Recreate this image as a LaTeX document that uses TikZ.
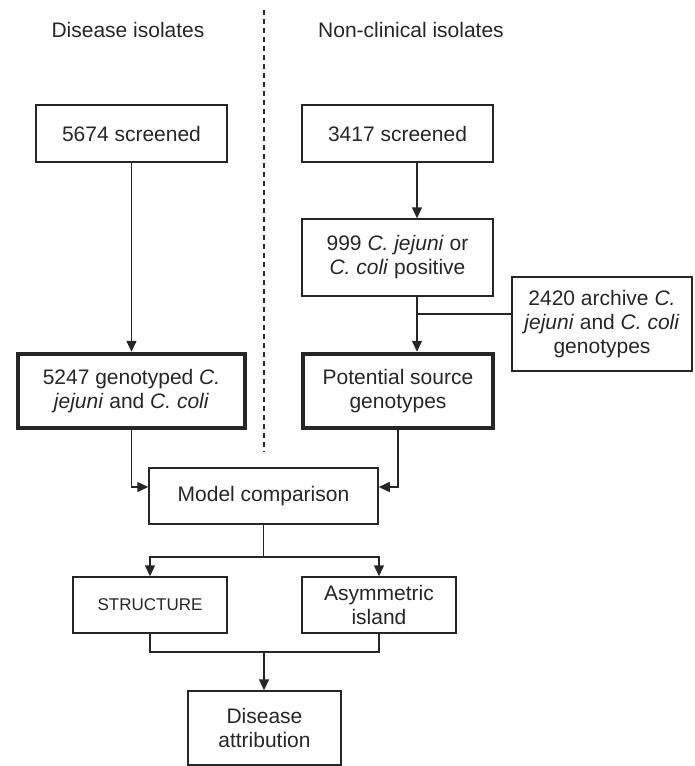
\documentclass[tikz,border=0pt]{standalone}
\usepackage{fontspec}
\setmainfont{Liberation Sans}
\usetikzlibrary{calc,arrows.meta,positioning}
\usepackage{xcolor}
\definecolor{ink}{RGB}{38,38,38}
\tikzset{
  box/.style     = {rectangle, draw=ink, line width=1.5pt, align=center, text=ink,
                    inner sep=2pt, font=\fontsize{21}{24}\selectfont},
  keybox/.style  = {box, line width=4.5pt},
  conn/.style    = {ink, line width=1.5pt, -{Triangle[length=11pt,width=10pt]}},
  link/.style    = {ink, line width=1.5pt},
  divider/.style = {ink, line width=1.5pt, dash pattern=on 5pt off 4pt},
  head/.style    = {text=ink, font=\fontsize{21}{24}\selectfont}
}

\begin{document}
\begin{tikzpicture}[x=1pt, y=-1pt]
    \useasboundingbox (0,0) rectangle (694,766);

    % ----- Headings and divider -----
    \node[head] (hdis) at (128,30) {Disease isolates};
    \node[head] (hnon) at (411,30) {Non-clinical isolates};
    \coordinate (divtop) at (264,10);
    \coordinate (divbot) at (264,452);
    \draw[divider] (divtop) -- (divbot);

    % ----- Disease column -----
    \node[box, minimum width=191pt, minimum height=57pt] (s1) at (131.5,133.5) {5674 screened};
    \node[keybox, minimum width=227pt, minimum height=74pt] (g1) at (131.5,391)
      {5247 genotyped \textit{C.}\\ \textit{jejuni} and \textit{C. coli}};
    \draw[conn] (s1) -- (g1);

    % ----- Non-clinical column -----
    \node[box, minimum width=191pt, minimum height=57pt] (s2) at (397.5,133.5) {3417 screened};
    \node[box, minimum width=191pt, minimum height=77pt] (p2) at (397.5,257.5)
      {999 \textit{C. jejuni} or\\ \textit{C. coli} positive};
    \node[box, minimum width=180pt, minimum height=94pt] (a2) at (602,324)
      {2420 archive \textit{C.}\\ \textit{jejuni} and \textit{C. coli}\\ genotypes};
    \node[keybox, minimum width=190pt, minimum height=74pt] (g2) at (398,391)
      {Potential source\\ genotypes};

    \coordinate (rx) at (417,0);
    \coordinate (jn) at (417,314);
    \draw[conn] (s2.south -| rx) -- (p2.north -| rx);
    \draw[conn] (p2.south -| rx) -- (g2.north -| rx);
    \draw[link] (a2.west |- jn) -- (jn);

    % ----- Model comparison -----
    \node[box, minimum width=229pt, minimum height=56pt] (mc) at (263.5,496) {Model comparison};
    \draw[conn] (g1.south) |- ($(mc.west)+(0,-9)$);
    \draw[conn] (g2.south) |- ($(mc.east)+(0,-9)$);

    % ----- Models -----
    \node[box, minimum width=154pt, minimum height=56pt, font=\fontsize{17}{20}\selectfont] (st) at (150,605) {STRUCTURE};
    \node[box, minimum width=154pt, minimum height=56pt] (ai) at (379,605) {Asymmetric\\ island};

    \coordinate (split) at (264,557);
    \draw[link] (mc.south) -- (mc.south |- split);
    \draw[conn] (mc.south |- split) -| (st.north);
    \draw[conn] (mc.south |- split) -| (ai.north);

    % ----- Attribution -----
    \node[box, minimum width=153pt, minimum height=74pt] (da) at (264.5,728) {Disease\\ attribution};

    \coordinate (merge) at (264,652);
    \draw[link] (st.south) |- (merge) -| (ai.south);
    \draw[conn] (merge) -- (merge |- da.north);
\end{tikzpicture}
\end{document}
